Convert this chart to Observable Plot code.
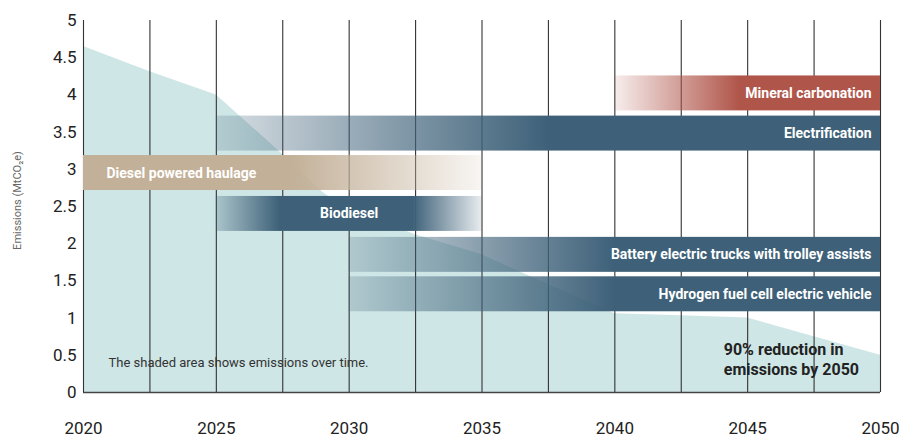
<!DOCTYPE html>
<html><head><meta charset="utf-8">
<script src="https://cdn.jsdelivr.net/npm/d3@7"></script>
<script src="https://cdn.jsdelivr.net/npm/@observablehq/plot@0.6"></script>
<style>
body{margin:0;background:#fff;}
#chart{width:901px;height:436px;}
</style></head><body><div id="chart"></div>
<script>
// ---- data ----
const areaYears = [2020, 2022.5, 2025, 2027.5, 2029, 2030, 2032.5, 2035, 2037.5, 2040, 2042.5, 2045, 2047.5, 2050];
const areaEmissions = [4.65, 4.31, 4.0, 3.2, 2.69, 2.45, 2.12, 1.85, 1.45, 1.06, 1.03, 1.0, 0.75, 0.5];
const pathways = ["Mineral carbonation", "Electrification", "Diesel powered haulage", "Biodiesel",
  "Battery electric trucks with trolley assists", "Hydrogen fuel cell electric vehicle"];
const startYears = [2040, 2025, 2020, 2025, 2030, 2030];
const endYears = [2050, 2050, 2035, 2035, 2050, 2050];
const levels = [4.02, 3.48, 2.95, 2.40, 1.85, 1.32];
const yTicks = [0, 0.5, 1, 1.5, 2, 2.5, 3, 3.5, 4, 4.5, 5];
const xTicks = [2020, 2025, 2030, 2035, 2040, 2045, 2050];
const gridYears = [2020, 2022.5, 2025, 2027.5, 2030, 2032.5, 2035, 2037.5, 2040, 2042.5, 2045, 2047.5, 2050];
const yLabel = "Emissions (MtCO₂e)";
const noteText = "The shaded area shows emissions over time.";
const reductionText = "90% reduction in\nemissions by 2050";

// ---- styles ----
const blue = "#3e6179", red = "#b0554a", tan = "#c3b098";
const gradientStops = [
  [red,  [[0, 0.1], [0.47, 1], [1, 1]]],
  [blue, [[0, 0.2], [0.5, 1], [1, 1]]],
  [tan,  [[0, 1], [0.52, 1], [1, 0.12]]],
  [blue, [[0, 0.25], [0.24, 1], [0.74, 1], [1, 0.12]]],
  [blue, [[0, 0.22], [0.5, 1], [1, 1]]],
  [blue, [[0, 0.22], [0.5, 1], [1, 1]]]
];
const labelAnchors = ["end", "end", "start", "middle", "end", "end"];
const halfH = 0.235;

const areaData = areaYears.map((year, i) => ({year, value: areaEmissions[i]}));
const bars = pathways.map((name, i) => ({
  name, start: startYears[i], end: endYears[i], level: levels[i], id: "grad" + i, anchor: labelAnchors[i]
}));

const labelFont = {fill: "white", fontWeight: 700, fontSize: 14, fontFamily: "Roboto", stroke: null, letterSpacing: "-0.15px"};

const plot = Plot.plot({
  width: 901, height: 436,
  marginLeft: 83, marginRight: 21, marginTop: 20, marginBottom: 44,
  x: {domain: [2020, 2050]},
  y: {domain: [0, 5]},
  style: {fontFamily: "Roboto", background: "white", overflow: "visible", color: "#222"},
  marks: [
    Plot.areaY(areaData, {x: "year", y: "value", fill: "#cfe6e6"}),
    Plot.ruleX(gridYears, {y1: 0, y2: 5, stroke: "#333", strokeWidth: 1.1}),
    Plot.ruleY([0], {stroke: "#444", strokeWidth: 1.5}),
    ...bars.map(b => Plot.rect([b], {
      x1: "start", x2: "end", y1: d => d.level - halfH, y2: d => d.level + halfH,
      fill: `url(#${b.id})`
    })),
    Plot.text(bars.filter(b => b.anchor === "end"), {
      x: "end", y: "level", text: "name", textAnchor: "end", dx: -9, ...labelFont
    }),
    Plot.text(bars.filter(b => b.anchor === "start"), {
      x: "start", y: "level", text: "name", textAnchor: "start", dx: 23, ...labelFont
    }),
    Plot.text(bars.filter(b => b.anchor === "middle"), {
      x: d => (d.start + d.end) / 2, y: "level", text: "name", textAnchor: "middle", ...labelFont
    }),
    Plot.text([noteText], {x: 2020, y: 0.4, dx: 25, text: d => d, textAnchor: "start",
      fontSize: 13, fill: "#333"}),
    Plot.text([reductionText], {x: 2044.1, y: 0.46, text: d => d, textAnchor: "start",
      fontSize: 16, fontWeight: 700, fill: "#222", lineHeight: 1.25}),
    Plot.text([yLabel], {frameAnchor: "left", textAnchor: "middle", dx: -66, dy: -6, rotate: -90,
      text: d => d, fontSize: 11, fill: "#666"}),
    Plot.axisY({ticks: yTicks, tickSize: 0, tickPadding: 7, fontSize: 17, label: null,
      tickFormat: d => String(d), fill: "#222"}),
    Plot.axisX({ticks: xTicks, tickSize: 0, tickPadding: 29, fontSize: 17, label: null,
      tickFormat: d => String(d), fill: "#222"})
  ]
});

// gradient definitions for the pathway bars
const ns = "http://www.w3.org/2000/svg";
const defs = document.createElementNS(ns, "defs");
gradientStops.forEach(([color, stops], i) => {
  const g = document.createElementNS(ns, "linearGradient");
  g.setAttribute("id", "grad" + i);
  g.setAttribute("x1", "0"); g.setAttribute("x2", "1");
  g.setAttribute("y1", "0"); g.setAttribute("y2", "0");
  stops.forEach(([off, op]) => {
    const s = document.createElementNS(ns, "stop");
    s.setAttribute("offset", off);
    s.setAttribute("stop-color", color);
    s.setAttribute("stop-opacity", op);
    g.appendChild(s);
  });
  defs.appendChild(g);
});
plot.insertBefore(defs, plot.firstChild);
document.getElementById("chart").appendChild(plot);
</script>
</body></html>
